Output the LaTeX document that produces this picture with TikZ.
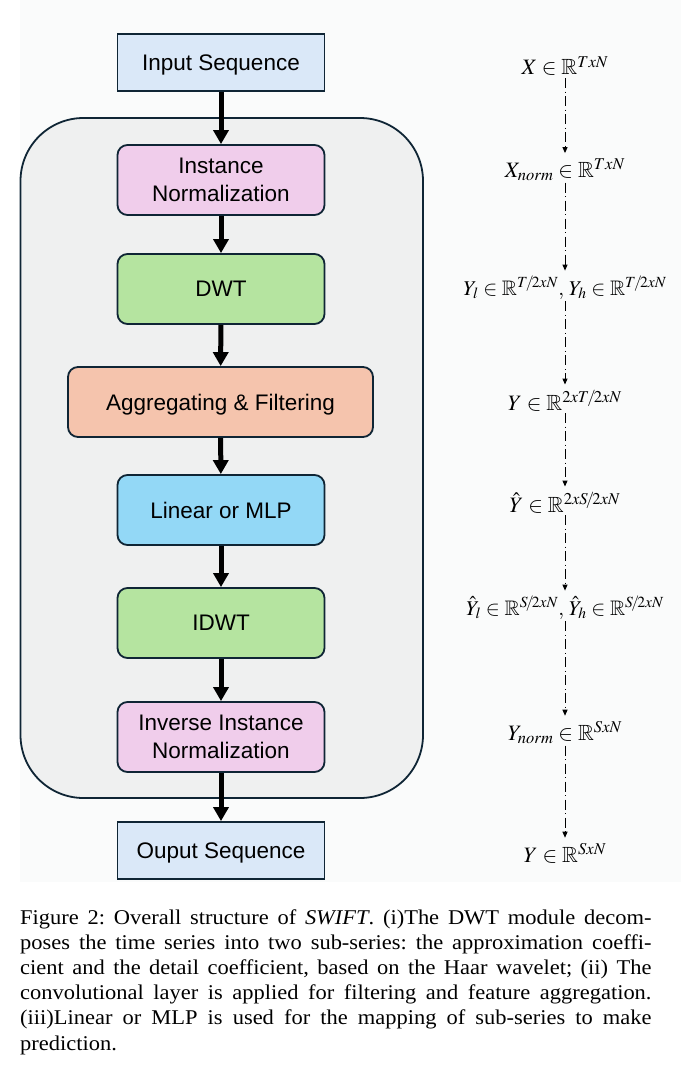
\documentclass[tikz,border=0pt]{standalone}
\usepackage{mathptmx}
\usepackage{amssymb}
\usepackage[no-math]{fontspec}
\setmainfont{Liberation Serif}
\setsansfont{Liberation Sans}
\usetikzlibrary{arrows.meta}
\DeclareMathSizes{22}{22}{16.5}{12}
\DeclareMathSizes{21}{21}{15.5}{11}
\definecolor{edge}{HTML}{0F2535}
\definecolor{seqblue}{HTML}{DAE8F8}
\definecolor{normpink}{HTML}{F0CDEB}
\definecolor{dwtgreen}{HTML}{B5E4A0}
\definecolor{aggorange}{HTML}{F5C4AD}
\definecolor{linblue}{HTML}{93D8F6}
\definecolor{framegray}{HTML}{EFF0F0}
\definecolor{paper}{HTML}{FAFBFB}
\begin{document}
\begin{tikzpicture}[x=1pt,y=-1pt,
  box/.style={draw=edge, line width=1.8pt, rounded corners=10pt,
    minimum width=207pt, minimum height=70pt, inner sep=0pt, align=center,
    text depth=0pt, font=\sffamily\fontsize{22.5}{28}\selectfont},
  seqbox/.style={box, sharp corners, minimum height=57pt, fill=seqblue},
  flow/.style={line width=5pt, -{Triangle[width=15pt,length=14pt]}},
  formula/.style={inner sep=1pt, anchor=base, font=\fontsize{22}{26}\selectfont},
  wideformula/.style={formula, font=\fontsize{21}{25}\selectfont},
  dimflow/.style={line width=1pt, dash pattern=on 10pt off 3.5pt on 1pt off 3.5pt,
    -{Triangle[width=5pt,length=6pt]}, shorten >=4pt, shorten <=1pt}]
\useasboundingbox (0,0) rectangle (691,1070);
\fill[paper] (20,0) rectangle (681,882);
% container
\node[draw=edge, line width=1.8pt, fill=framegray, rounded corners=63pt,
  minimum width=402.5pt, minimum height=680pt, inner sep=0pt] (frame) at (221.75,458) {};
% boxes
\node[seqbox] (in) at (221,62.5) {Input Sequence};
\node[box, fill=normpink] (inorm) at (221,180) {Instance\\Normalization};
\node[box, fill=dwtgreen] (dwt) at (221,289) {DWT};
\node[box, fill=aggorange, minimum width=305pt] (agg) at (220.5,402) {Aggregating \& Filtering};
\node[box, fill=linblue] (lin) at (221,510) {Linear or MLP};
\node[box, fill=dwtgreen] (idwt) at (221,623) {IDWT};
\node[box, fill=normpink] (iinorm) at (221,737) {Inverse Instance\\Normalization};
\node[seqbox] (out) at (221,850.5) {Ouput Sequence};
\draw[flow] (in) -- (inorm);
\draw[flow] (inorm) -- (dwt);
\draw[flow] (dwt) -- (agg);
\draw[flow] (agg) -- (lin);
\draw[flow] (lin) -- (idwt);
\draw[flow] (idwt) -- (iinorm);
\draw[flow] (iinorm) -- (out);
% formulas
\node[formula] (f1) at (565,75) {$X \in \mathbb{R}^{TxN}$};
\node[formula] (f2) at (565,177) {$X_{norm} \in \mathbb{R}^{TxN}$};
\node[wideformula] (f3) at (565,295) {$Y_{l} \in \mathbb{R}^{T\!/\!2xN},\, Y_{h} \in \mathbb{R}^{T\!/\!2xN}$};
\node[formula] (f4) at (565,410) {$Y \in \mathbb{R}^{2xT\!/\!2xN}$};
\node[formula] (f5) at (565,512) {$\hat{Y} \in \mathbb{R}^{2xS\!/\!2xN}$};
\node[wideformula] (f6) at (565,615) {$\hat{Y}_{l} \in \mathbb{R}^{S\!/\!2xN},\, \hat{Y}_{h} \in \mathbb{R}^{S\!/\!2xN}$};
\node[formula] (f7) at (565,740) {$Y_{norm} \in \mathbb{R}^{SxN}$};
\node[formula] (f8) at (565,862) {$Y \in \mathbb{R}^{SxN}$};
\draw[dimflow] (f1.south) -- (f2.north);
\draw[dimflow] (f2.south) -- (f3.north);
\draw[dimflow] (f3.south) -- (f4.north);
\draw[dimflow] (f4.south) -- (f5.north);
\draw[dimflow] (f5.south) -- (f6.north);
\draw[dimflow] (f6.south) -- (f7.north);
\draw[dimflow] (f7.south) -- (f8.north);
% caption
\node[anchor=base west, xscale=1.07, text width=590pt, align=justify, inner sep=0pt,
  font=\fontsize{21}{25.2}\selectfont\frenchspacing] (cap) at (20,924)
{Figure 2: Overall structure of \textit{SWIFT}. (i)The DWT module decom-\linebreak
poses the time series into two sub-series: the approximation coeffi-\linebreak
cient and the detail coefficient, based on the Haar wavelet; (ii) The\linebreak
convolutional layer is applied for filtering and feature aggregation.\linebreak
(iii)Linear or MLP is used for the mapping of sub-series to make\linebreak
prediction.};
\end{tikzpicture}
\end{document}
